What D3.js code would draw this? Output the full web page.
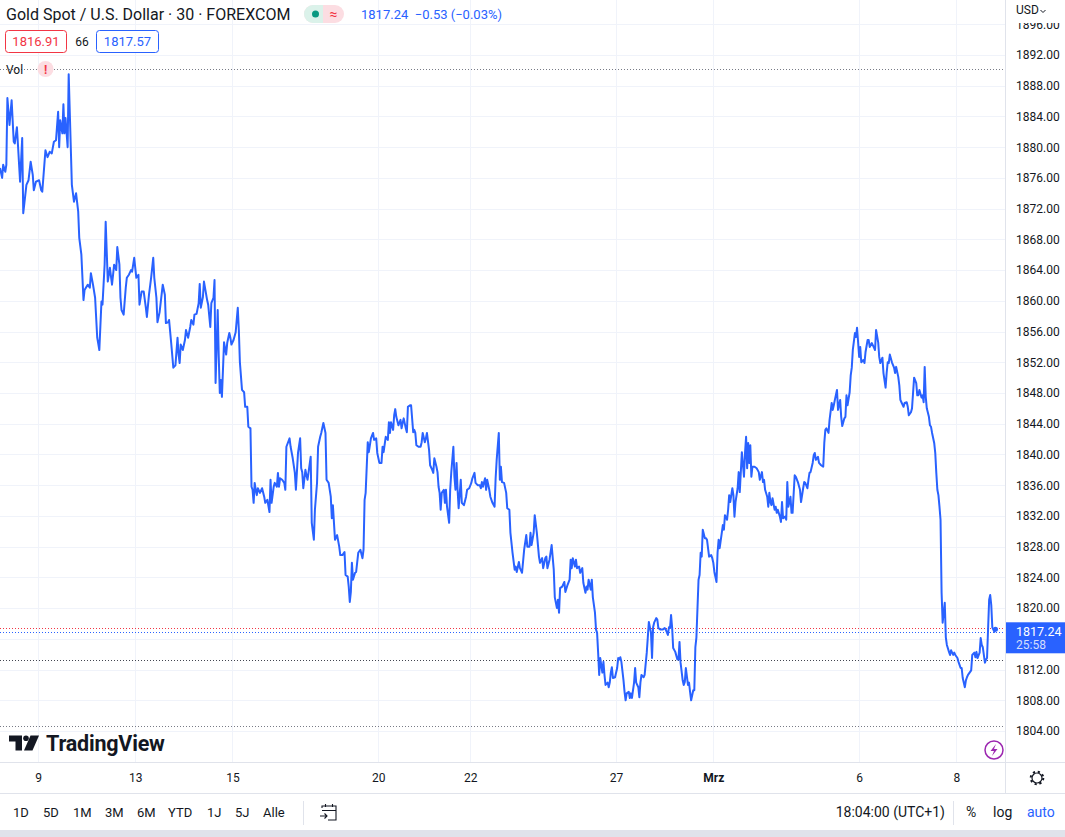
<!DOCTYPE html>
<html>
<head>
<meta charset="utf-8">
<script src="https://cdn.jsdelivr.net/npm/d3@7"></script>
<style>
  body { margin: 0; background: #fff; }
  svg { display: block; font-family: Roboto, "Liberation Sans", sans-serif; }
</style>
</head>
<body>
<svg id="chart" width="1065" height="837"></svg>
<script>
// 30-min closes, gold spot: [bar index, close]
const goldCloses = [
  [0,1877.3],[2,1876.0],[3,1877.7],[5,1876.8],[6,1877.7],[7,1886.4],[9,1882.9],[11,1886.1],[13,1880.7],[14,1880.5],
  [16,1882.6],[17,1880.3],[19,1875.5],[21,1881.2],[22,1871.4],[25,1875.1],[27,1875.7],[29,1878.1],[31,1876.4],[32,1874.4],
  [34,1875.5],[37,1875.7],[39,1874.4],[40,1874.2],[43,1879.6],[45,1878.7],[47,1879.4],[49,1879.2],[51,1880.7],[53,1880.9],
  [55,1884.6],[56,1880.0],[57,1883.5],[59,1881.8],[60,1885.6],[61,1881.8],[62,1883.8],[64,1880.0],[65,1889.5],[67,1879.9],
  [68,1875.1],[70,1872.9],[72,1874.0],[74,1871.6],[75,1868.2],[77,1866.0],[79,1860.1],[80,1861.4],[83,1862.1],[85,1861.7],
  [86,1863.6],[88,1862.1],[90,1860.4],[92,1855.2],[94,1853.6],[96,1859.9],[97,1859.5],[99,1864.7],[100,1870.3],[102,1862.5],
  [104,1864.3],[106,1862.1],[108,1864.7],[110,1864.0],[111,1867.0],[113,1864.7],[114,1860.4],[115,1858.8],[117,1858.2],[119,1861.7],
  [120,1863.0],[122,1863.4],[124,1864.0],[125,1863.8],[127,1865.6],[129,1863.0],[131,1863.4],[132,1859.5],[134,1861.2],[136,1861.2],
  [138,1859.1],[139,1857.9],[141,1860.8],[143,1863.0],[145,1865.6],[146,1863.0],[148,1860.4],[149,1857.2],[151,1858.5],[154,1862.1],
  [156,1860.8],[157,1857.1],[159,1857.2],[160,1857.5],[162,1854.5],[164,1851.3],[166,1851.6],[168,1855.2],[169,1853.0],[170,1851.9],
  [171,1854.3],[173,1853.6],[175,1854.9],[176,1856.2],[178,1855.2],[180,1856.6],[181,1857.5],[183,1856.9],[184,1858.2],[186,1858.3],
  [188,1859.7],[189,1862.2],[190,1859.1],[192,1860.5],[193,1862.5],[196,1860.1],[197,1859.5],[199,1856.6],[200,1859.7],[202,1860.4],
  [203,1862.7],[204,1849.3],[206,1858.8],[207,1852.7],[208,1848.0],[209,1849.7],[210,1847.5],[212,1854.6],[214,1853.0],[215,1854.5],
  [217,1855.8],[218,1855.2],[219,1854.3],[221,1854.9],[223,1855.9],[225,1859.1],[226,1856.2],[227,1852.0],[229,1848.4],[231,1848.1],
  [232,1846.2],[234,1846.2],[235,1843.6],[237,1843.4],[238,1835.8],[239,1835.4],[240,1833.7],[241,1836.3],[242,1835.4],[243,1834.7],
  [244,1835.6],[246,1835.0],[248,1835.6],[250,1834.5],[251,1833.7],[253,1834.1],[255,1832.5],[256,1836.7],[257,1833.7],[259,1835.8],
  [260,1836.3],[262,1835.8],[263,1837.6],[264,1835.8],[265,1836.9],[267,1836.7],[269,1836.3],[270,1835.4],[271,1841.0],[274,1842.1],
  [275,1841.0],[277,1839.5],[279,1837.6],[280,1835.4],[282,1840.2],[284,1842.1],[285,1838.2],[286,1837.7],[287,1835.6],[289,1838.0],
  [290,1837.3],[291,1836.7],[292,1837.7],[294,1839.7],[295,1831.1],[297,1828.9],[298,1832.8],[300,1836.3],[301,1841.0],[303,1842.3],
  [304,1842.8],[306,1844.1],[308,1842.8],[309,1836.7],[311,1836.3],[313,1834.5],[314,1831.7],[315,1833.4],[317,1828.9],[319,1829.5],
  [321,1828.0],[322,1826.9],[324,1826.9],[326,1827.3],[327,1824.3],[329,1824.1],[330,1822.8],[331,1820.8],[332,1822.1],[333,1825.9],
  [334,1823.7],[336,1824.6],[337,1824.7],[339,1827.2],[341,1827.6],[343,1826.5],[344,1827.6],[345,1834.1],[346,1835.0],[348,1841.6],
  [349,1840.3],[351,1842.1],[353,1842.8],[354,1841.9],[356,1842.1],[357,1840.2],[359,1838.9],[361,1838.9],[362,1841.0],[363,1840.3],
  [365,1842.3],[367,1841.9],[368,1844.2],[369,1842.8],[370,1844.2],[372,1843.2],[373,1845.1],[374,1845.9],[375,1844.9],[377,1843.8],
  [379,1844.5],[380,1843.4],[381,1844.1],[382,1844.7],[384,1843.4],[385,1842.9],[386,1846.2],[388,1846.4],[389,1846.4],[391,1842.9],
  [392,1843.2],[393,1842.8],[394,1841.2],[396,1841.0],[398,1841.0],[399,1841.6],[400,1842.8],[402,1841.6],[403,1842.1],[404,1842.8],
  [406,1840.6],[407,1838.6],[409,1838.0],[410,1837.6],[411,1839.5],[413,1838.4],[414,1837.7],[415,1835.8],[416,1835.0],[417,1832.8],
  [418,1835.0],[420,1835.4],[421,1833.7],[422,1835.4],[423,1833.2],[425,1831.1],[426,1835.4],[427,1837.6],[429,1841.0],[430,1837.1],
  [431,1835.4],[432,1838.9],[433,1835.4],[434,1833.0],[436,1836.7],[437,1833.7],[439,1833.4],[441,1834.5],[442,1835.4],[444,1835.6],
  [446,1836.3],[447,1836.9],[449,1837.6],[450,1836.3],[452,1836.0],[454,1836.0],[455,1835.6],[456,1836.4],[457,1835.8],[459,1836.9],
  [460,1835.4],[461,1836.7],[463,1835.4],[464,1834.5],[466,1833.7],[468,1833.2],[469,1836.9],[470,1839.3],[472,1842.8],[473,1836.7],
  [474,1838.4],[475,1836.4],[477,1836.3],[479,1835.0],[480,1833.0],[482,1832.8],[483,1829.8],[485,1827.2],[487,1825.0],[488,1825.4],
  [489,1824.7],[491,1826.0],[492,1825.2],[494,1824.6],[496,1827.6],[498,1829.5],[499,1828.0],[501,1828.0],[502,1829.8],[503,1828.2],
  [505,1829.8],[506,1832.1],[508,1829.8],[510,1826.7],[511,1825.9],[513,1826.5],[514,1825.2],[516,1826.5],[517,1826.7],[518,1825.2],
  [520,1826.3],[522,1828.2],[524,1825.0],[525,1821.4],[527,1820.0],[528,1821.1],[529,1819.4],[530,1822.6],[532,1822.8],[534,1823.4],
  [535,1822.1],[537,1823.0],[539,1823.7],[540,1826.3],[541,1825.2],[542,1826.5],[544,1825.4],[545,1826.3],[546,1825.2],[548,1825.4],
  [549,1824.6],[551,1825.2],[552,1823.3],[554,1822.0],[555,1822.8],[556,1822.4],[557,1823.7],[559,1822.4],[560,1823.7],[561,1821.4],
  [563,1819.4],[564,1817.2],[565,1816.8],[566,1814.2],[567,1811.3],[568,1813.5],[570,1811.6],[571,1813.0],[572,1811.3],[573,1810.0],
  [575,1810.3],[576,1809.7],[577,1810.3],[578,1811.6],[579,1812.3],[580,1810.9],[582,1811.0],[584,1812.2],[585,1813.5],[586,1813.3],
  [587,1813.6],[588,1813.0],[590,1810.6],[591,1809.1],[592,1808.0],[593,1808.9],[595,1809.1],[596,1808.3],[597,1808.9],[598,1808.3],
  [600,1810.3],[601,1812.2],[602,1810.3],[604,1809.7],[605,1808.4],[606,1810.3],[607,1811.3],[609,1811.0],[610,1811.3],[612,1814.2],
  [613,1816.2],[614,1818.2],[616,1816.8],[617,1813.5],[618,1817.5],[619,1818.1],[621,1818.7],[622,1818.5],[623,1817.4],[625,1817.2],
  [627,1817.2],[629,1817.4],[630,1817.2],[632,1816.5],[633,1817.5],[634,1817.4],[635,1819.1],[636,1817.5],[637,1814.8],[639,1814.3],
  [641,1813.3],[642,1813.3],[643,1815.6],[644,1812.9],[646,1810.6],[647,1810.0],[648,1810.4],[649,1812.2],[651,1810.0],[652,1810.3],
  [653,1809.1],[654,1808.0],[656,1809.3],[657,1809.3],[658,1814.9],[659,1816.2],[661,1823.7],[662,1824.3],[663,1827.2],[664,1826.7],
  [665,1830.2],[667,1829.1],[668,1829.1],[669,1828.9],[671,1826.7],[673,1826.9],[674,1826.5],[675,1825.9],[676,1824.7],[678,1823.4],
  [679,1827.2],[680,1828.9],[681,1827.8],[683,1829.8],[684,1830.8],[685,1830.2],[686,1832.1],[688,1831.5],[689,1832.8],[690,1834.7],
  [691,1833.8],[693,1835.6],[694,1834.7],[695,1831.9],[696,1833.8],[698,1835.6],[699,1837.7],[700,1835.1],[701,1837.7],[702,1840.3],
  [704,1837.1],[705,1840.2],[706,1842.3],[707,1838.2],[708,1841.5],[709,1838.9],[710,1841.2],[711,1837.1],[712,1838.4],[714,1838.4],
  [716,1838.2],[718,1837.7],[719,1836.7],[721,1837.7],[722,1836.4],[723,1836.7],[724,1835.4],[726,1834.5],[727,1833.2],[728,1835.0],
  [729,1833.8],[730,1833.4],[731,1834.3],[733,1832.8],[734,1833.2],[735,1832.4],[736,1832.8],[738,1831.9],[739,1831.2],[740,1833.8],
  [741,1831.7],[743,1831.9],[744,1831.5],[745,1836.4],[746,1833.2],[748,1834.5],[749,1832.4],[750,1832.4],[752,1837.3],[753,1837.1],
  [755,1836.4],[757,1835.4],[758,1833.8],[760,1835.6],[761,1836.4],[762,1836.3],[764,1835.6],[765,1836.7],[766,1837.6],[767,1837.7],
  [769,1838.9],[770,1839.9],[771,1840.2],[772,1839.3],[774,1839.7],[775,1838.9],[777,1838.6],[779,1838.4],[780,1841.5],[781,1843.2],
  [782,1843.4],[784,1842.8],[785,1844.5],[787,1846.7],[788,1845.8],[789,1846.4],[790,1847.1],[792,1848.4],[793,1845.8],[795,1847.1],
  [796,1844.9],[797,1843.7],[799,1844.7],[800,1844.9],[801,1847.7],[802,1846.4],[804,1848.1],[805,1850.3],[806,1851.3],[807,1853.6],
  [809,1855.8],[810,1855.3],[811,1856.5],[813,1852.7],[814,1854.0],[815,1852.0],[817,1852.3],[818,1851.9],[819,1853.3],[821,1854.9],
  [822,1854.9],[823,1854.0],[825,1854.5],[827,1853.9],[828,1853.6],[829,1856.2],[831,1854.6],[832,1852.7],[833,1851.9],[835,1852.6],
  [836,1850.6],[838,1848.7],[839,1850.6],[840,1852.0],[841,1851.9],[842,1853.0],[844,1852.0],[846,1851.3],[847,1850.6],[848,1851.4],
  [850,1850.1],[851,1849.0],[852,1847.1],[853,1846.8],[855,1846.2],[856,1846.7],[858,1846.8],[859,1846.2],[860,1845.1],[862,1845.5],
  [863,1846.0],[864,1848.0],[865,1850.0],[867,1849.3],[868,1847.7],[869,1847.7],[870,1848.4],[872,1847.4],[873,1847.7],[874,1846.8],
  [875,1851.4],[876,1847.5],[877,1846.0],[879,1844.9],[880,1843.8],[881,1843.6],[882,1842.8],[884,1841.5],[885,1840.2],[886,1837.6],
  [887,1835.4],[888,1834.7],[889,1833.2],[890,1831.5],[891,1822.0],[892,1818.1],[893,1819.4],[894,1820.7],[895,1816.2],[896,1815.2],
  [898,1814.3],[899,1813.9],[900,1814.5],[902,1813.9],[903,1814.2],[904,1813.9],[906,1813.5],[907,1813.0],[908,1812.6],[909,1812.2],
  [910,1812.2],[911,1810.9],[913,1809.7],[914,1810.6],[915,1811.0],[916,1811.3],[918,1811.7],[919,1811.9],[920,1813.9],[922,1814.2],
  [923,1813.6],[924,1814.3],[925,1813.5],[927,1814.2],[928,1816.1],[929,1815.2],[930,1814.9],[932,1812.9],[933,1813.3],[934,1813.5],
  [936,1821.1],[937,1821.7],[938,1820.4],[939,1817.5],[941,1816.9],[942,1817.24]
];

// price axis
const priceTicks = d3.range(1804, 1897, 4);
// time axis: bar index where each session label sits
const dayTickBars = [36, 128, 220, 358, 445, 583, 675, 813, 905];
const dayTickLabels = ["9", "13", "15", "20", "22", "27", "Mrz", "6", "8"];
// horizontal dotted price lines
const refLinePrices = [1890.2, 1817.35, 1816.85, 1813.3, 1804.6];
const refLineColors = ["#787b86", "#f23645", "#2962ff", "#434651", "#787b86"];
// legend values
const lastPrice = 1817.24;
const lastChange = "−0.53 (−0.03%)";
const bidPrice = "1816.91";
const askPrice = "1817.57";
const spread = "66";
const countdown = "25:58";
const periodButtons = ["1D", "5D", "1M", "3M", "6M", "YTD", "1J", "5J", "Alle"];

const W = 1065, H = 837;
const paneRight = 1005, paneBottom = 762, timeBottom = 793;
const blue = "#2962ff", ink = "#131722", gridCol = "#f0f3fa", border = "#e0e3eb";

const svg = d3.select("#chart");

const x = d3.scaleLinear().domain([0, 951]).range([0, paneRight]);
const y = d3.scaleLinear().domain([1804, 1892]).range([731, 55]);

svg.append("defs").append("clipPath").attr("id", "pane")
  .append("rect").attr("x", 0).attr("y", 0).attr("width", paneRight).attr("height", paneBottom);

// grid
const grid = svg.append("g").attr("clip-path", "url(#pane)");
grid.selectAll(".hg").data(priceTicks).join("line")
  .attr("x1", 0).attr("x2", paneRight)
  .attr("y1", d => Math.round(y(d)) + 0.5).attr("y2", d => Math.round(y(d)) + 0.5)
  .attr("stroke", gridCol);
grid.selectAll(".vg").data(dayTickBars).join("line")
  .attr("x1", d => Math.round(x(d)) + 0.5).attr("x2", d => Math.round(x(d)) + 0.5)
  .attr("y1", 0).attr("y2", paneBottom)
  .attr("stroke", gridCol);

// dotted price lines
grid.selectAll(".ref").data(refLinePrices).join("line")
  .attr("x1", 0).attr("x2", paneRight)
  .attr("y1", d => Math.round(y(d)) + 0.5).attr("y2", d => Math.round(y(d)) + 0.5)
  .attr("stroke", (d, i) => refLineColors[i])
  .attr("stroke-dasharray", "1,2");

// price line
const line = d3.line().x(d => x(d[0])).y(d => y(d[1]));
grid.append("path").datum(goldCloses)
  .attr("d", line)
  .attr("fill", "none")
  .attr("stroke", blue)
  .attr("stroke-width", 2)
  .attr("stroke-linejoin", "round");
const last = goldCloses[goldCloses.length - 1];
grid.append("circle").attr("cx", x(last[0])).attr("cy", y(last[1])).attr("r", 2.5).attr("fill", blue);

// right price axis (labels under the last-price tag are hidden, as on the original)
const ly = y(lastPrice);
const shownTicks = priceTicks.filter(d => y(d) < ly - 14 || y(d) > ly + 30);
const yAxis = d3.axisRight(y).tickValues(shownTicks).tickSize(0).tickPadding(11)
  .tickFormat(d3.format(".2f"));
const ya = svg.append("g").attr("transform", `translate(${paneRight},0)`).call(yAxis);
ya.select(".domain").remove();
ya.selectAll("text").attr("fill", ink).attr("font-size", 12).attr("font-family", "Roboto, sans-serif");

// USD header cover
svg.append("rect").attr("x", paneRight + 1).attr("y", 0).attr("width", W - paneRight).attr("height", 23).attr("fill", "#fff");
svg.append("text").attr("x", 1016).attr("y", 14).attr("font-size", 12).attr("fill", ink).text("USD");
svg.append("path").attr("d", "M1040.5,10 l2.5,2.5 l2.5,-2.5").attr("fill", "none").attr("stroke", ink).attr("stroke-width", 1);

// last price tag
svg.append("rect").attr("x", paneRight + 1).attr("y", ly - 7).attr("width", W - paneRight).attr("height", 31).attr("fill", blue);
svg.append("text").attr("x", 1016).attr("y", ly + 6.5).attr("font-size", 12.5).attr("fill", "#fff").text(lastPrice.toFixed(2));
svg.append("text").attr("x", 1016).attr("y", ly + 20).attr("font-size", 12).attr("fill", "#d4defd").text(countdown);

// borders
svg.append("line").attr("x1", paneRight + 0.5).attr("x2", paneRight + 0.5).attr("y1", 0).attr("y2", timeBottom).attr("stroke", border);
svg.append("line").attr("x1", 0).attr("x2", W).attr("y1", paneBottom + 0.5).attr("y2", paneBottom + 0.5).attr("stroke", border);
svg.append("line").attr("x1", 0).attr("x2", W).attr("y1", timeBottom + 0.5).attr("y2", timeBottom + 0.5).attr("stroke", border);

// time axis
const xAxis = d3.axisBottom(x).tickValues(dayTickBars).tickSize(0).tickPadding(11)
  .tickFormat((d, i) => dayTickLabels[i]);
const xa = svg.append("g").attr("transform", `translate(0,${paneBottom})`).call(xAxis);
xa.select(".domain").remove();
xa.selectAll("text").attr("fill", ink).attr("font-size", 12).attr("font-family", "Roboto, sans-serif")
  .attr("font-weight", (d, i) => dayTickLabels[i] === "Mrz" ? 700 : 400);

// gear icon
const gear = svg.append("g").attr("transform", "translate(1037,778)");
gear.append("circle").attr("r", 5).attr("fill", "none").attr("stroke", ink).attr("stroke-width", 1.2);
gear.append("circle").attr("r", 6.3).attr("fill", "none").attr("stroke", ink).attr("stroke-width", 2)
  .attr("stroke-dasharray", "2.2,2.75");

// legend, row 1
svg.append("text").attr("x", 6).attr("y", 19.5).attr("font-size", 16).attr("fill", ink)
  .text("Gold Spot / U.S. Dollar · 30 · FOREXCOM");
svg.append("rect").attr("x", 304).attr("y", 5).attr("width", 40).attr("height", 18).attr("rx", 9).attr("fill", "#fcdde2");
svg.append("path").attr("d", "M313,5 h10 v18 h-10 a9,9 0 0 1 0,-18 Z").attr("fill", "#dbf2ea");
svg.append("circle").attr("cx", 315.5).attr("cy", 14).attr("r", 3.5).attr("fill", "#089981");
svg.append("text").attr("x", 333.5).attr("y", 19).attr("font-size", 14).attr("text-anchor", "middle").attr("fill", "#f23645").text("≈");
svg.append("text").attr("x", 361).attr("y", 19).attr("font-size", 13).attr("fill", blue)
  .text(lastPrice.toFixed(2) + "  " + lastChange).attr("xml:space", "preserve");

// legend, row 2
svg.append("rect").attr("x", 5.5).attr("y", 30.5).attr("width", 61).attr("height", 22).attr("rx", 3)
  .attr("fill", "#fff").attr("stroke", "#f23645");
svg.append("text").attr("x", 36).attr("y", 46).attr("font-size", 13).attr("text-anchor", "middle").attr("fill", "#f23645").text(bidPrice);
svg.append("text").attr("x", 82).attr("y", 46).attr("font-size", 12).attr("text-anchor", "middle").attr("fill", ink).text(spread);
svg.append("rect").attr("x", 96.5).attr("y", 30.5).attr("width", 62).attr("height", 22).attr("rx", 3)
  .attr("fill", "#fff").attr("stroke", blue);
svg.append("text").attr("x", 127.5).attr("y", 46).attr("font-size", 13).attr("text-anchor", "middle").attr("fill", blue).text(askPrice);

// legend, row 3
svg.append("text").attr("x", 6).attr("y", 74).attr("font-size", 12).attr("fill", ink).text("Vol");
svg.append("circle").attr("cx", 45.5).attr("cy", 69).attr("r", 8).attr("fill", "#fcdde2");
svg.append("text").attr("x", 45.5).attr("y", 74).attr("font-size", 12).attr("font-weight", 700)
  .attr("text-anchor", "middle").attr("fill", "#f23645").text("!");

// TradingView mark
const logo = svg.append("g").attr("fill", ink);
logo.append("path").attr("d", "M9,735.5 H22 V750.5 H15.5 V741.5 H9 Z");
logo.append("circle").attr("cx", 26).attr("cy", 738.3).attr("r", 2.8);
logo.append("path").attr("d", "M30.5,735.5 H39 L32.5,750.5 H24 Z");
logo.append("text").attr("x", 46).attr("y", 751).attr("font-size", 21.5).attr("font-weight", 700)
  .attr("letter-spacing", -0.2).text("TradingView");

// lightning badge
svg.append("circle").attr("cx", 994).attr("cy", 750).attr("r", 9).attr("fill", "#fff")
  .attr("stroke", "#9c27b0").attr("stroke-width", 1.5);
svg.append("path").attr("d", "M996,744 L990.5,751 H994 L992,756 L997.5,749 H994 Z").attr("fill", "#9c27b0");

// bottom toolbar
const periodX = [13, 43, 73, 105, 137, 168, 207, 235, 263];
svg.selectAll(".period").data(periodButtons).join("text")
  .attr("x", (d, i) => periodX[i]).attr("y", 817).attr("font-size", 13).attr("fill", ink).text(d => d);
svg.append("line").attr("x1", 303.5).attr("x2", 303.5).attr("y1", 801).attr("y2", 825).attr("stroke", border);
const cal = svg.append("g").attr("fill", "none").attr("stroke", ink).attr("stroke-width", 1.1);
cal.append("path").attr("d", "M322,808 V806 H336 V820 H328");
cal.append("path").attr("d", "M322,810.5 H336 M325.5,804 V807 M332.5,804 V807");
cal.append("path").attr("d", "M320,816 H327 M324.5,813.5 L327,816 L324.5,818.5");

svg.append("text").attr("x", 945).attr("y", 817).attr("font-size", 14).attr("text-anchor", "end").attr("fill", ink).text("18:04:00 (UTC+1)");
svg.append("line").attr("x1", 953.5).attr("x2", 953.5).attr("y1", 801).attr("y2", 825).attr("stroke", border);
svg.append("text").attr("x", 966).attr("y", 817).attr("font-size", 14).attr("fill", ink).text("%");
svg.append("text").attr("x", 993).attr("y", 817).attr("font-size", 14).attr("fill", ink).text("log");
svg.append("text").attr("x", 1027).attr("y", 817).attr("font-size", 14).attr("fill", blue).text("auto");

svg.append("rect").attr("x", 0).attr("y", 830).attr("width", W).attr("height", H - 830).attr("fill", "#e0e3eb");
</script>
</body>
</html>
